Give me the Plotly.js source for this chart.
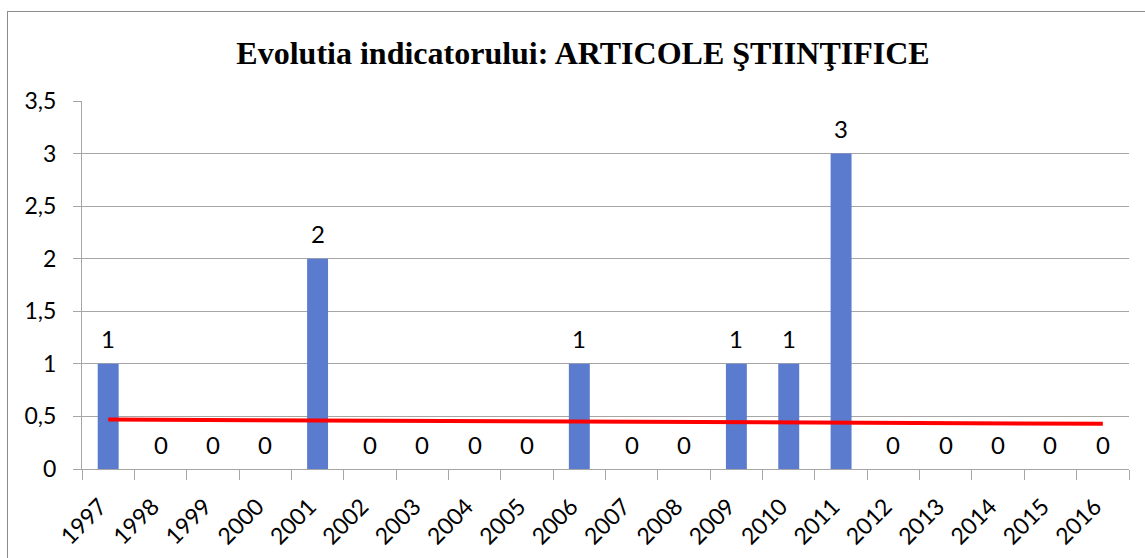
<!DOCTYPE html>
<html>
<head>
<meta charset="utf-8">
<script src="https://cdn.plot.ly/plotly-3.0.1.min.js"></script>
<style>
  html, body { margin: 0; padding: 0; background: #fff; overflow: hidden; }
  #frame { position: absolute; left: 7px; top: 11px; width: 1150px; height: 560px; border: 1px solid #8c8c8c; box-sizing: border-box; }
  #chart { position: absolute; left: 0; top: 0; width: 1145px; height: 558px; }
</style>
</head>
<body>
<div id="frame"></div>
<div id="chart"></div>
<script>
const years = ['1997','1998','1999','2000','2001','2002','2003','2004','2005','2006','2007','2008','2009','2010','2011','2012','2013','2014','2015','2016'];
const values = [1,0,0,0,2,0,0,0,0,1,0,0,1,1,3,0,0,0,0,0];
const trendYears = ['1997','2016'];
const trendValues = [0.47, 0.43];
const chartTitle = 'Evolutia indicatorului: ARTICOLE ŞTIINŢIFICE';

const tickFont = {family: 'Lato, "Open Sans", sans-serif', size: 23, color: '#000'};
const dataFont = {family: 'Lato, "Open Sans", sans-serif', size: 24, color: '#000'};

const bars = {
  type: 'bar', x: years, y: values,
  marker: {color: '#5B7BCF'},
  hoverinfo: 'skip', showlegend: false
};
const trend = {
  type: 'scatter', mode: 'lines', x: trendYears, y: trendValues,
  line: {color: '#FF0000', width: 4},
  hoverinfo: 'skip', showlegend: false
};

// annotation x given as category index so numeric-looking names are not misread
const annotations = years.map((yr, i) => ({
  x: years.indexOf(yr), y: values[i], xref: 'x', yref: 'y',
  text: String(values[i]), showarrow: false,
  yanchor: 'middle', yshift: 25,
  font: dataFont
}));

const layout = {
  width: 1145, height: 558,
  margin: {l: 82, r: 16, t: 101, b: 89, pad: 0},
  paper_bgcolor: 'rgba(0,0,0,0)', plot_bgcolor: 'rgba(0,0,0,0)',
  separators: ',.',
  bargap: 0.6,
  title: {
    text: '<b>' + chartTitle + '</b>',
    font: {family: '"Liberation Serif", "Times New Roman", serif', size: 32, color: '#000'},
    x: 583 / 1145, xanchor: 'center', xref: 'container', y: 0.905, yanchor: 'middle', yref: 'container'
  },
  xaxis: {
    type: 'category', categoryorder: 'array', categoryarray: years,
    range: [-0.5, years.length - 0.5], autorange: false,
    tickangle: -45, tickson: 'boundaries',
    ticks: 'outside', ticklen: 10, tickcolor: '#a6a6a6', tickwidth: 1,
    showline: true, linecolor: '#a6a6a6', linewidth: 1,
    showgrid: false, tickfont: tickFont, fixedrange: true,
    ticklabelstandoff: 14, ticklabelshift: -8
  },
  yaxis: {
    range: [0, 3.5], autorange: false, dtick: 0.5, tick0: 0,
    ticks: 'outside', ticklen: 8, tickcolor: '#a6a6a6', tickwidth: 1,
    showline: true, linecolor: '#a6a6a6', linewidth: 1,
    showgrid: true, gridcolor: '#a6a6a6', gridwidth: 1,
    zeroline: false, tickfont: tickFont, ticklabelstandoff: 12, fixedrange: true
  },
  annotations: annotations
};

Plotly.newPlot('chart', [bars, trend], layout, {displayModeBar: false, staticPlot: true});
</script>
</body>
</html>
